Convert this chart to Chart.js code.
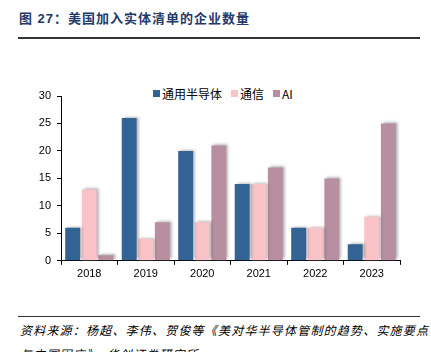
<!DOCTYPE html>
<html>
<head>
<meta charset="utf-8">
<script src="https://cdn.jsdelivr.net/npm/chart.js@4/dist/chart.umd.min.js"></script>
<style>
    body { margin: 0; width: 431px; height: 352px; background: #fff; overflow: hidden; position: relative; font-family: "Liberation Sans", Arial, "Noto Sans CJK SC", sans-serif; }
    #title { position: absolute; left: 19px; top: 8px; font-size: 13px; font-weight: bold; color: #1f3a6b; font-family: "Liberation Sans", "Noto Sans CJK SC", sans-serif; letter-spacing: 1px; }
    .rule { position: absolute; left: 18px; width: 402px; background: #333; }
    #legend { position: absolute; top: 85px; left: 153px; font-size: 12px; color: #000; display: flex; font-family: "Noto Sans CJK SC", sans-serif; }
    #legend span.item { display: flex; align-items: center; margin-right: 9px; }
    #legend span.box { width: 7px; height: 7px; display: inline-block; margin-right: 2px; }
    #chartWrap { position: absolute; left: 0; top: 80px; width: 431px; height: 210px; }
    .note { position: absolute; left: 20px; font-size: 12px; font-style: italic; color: #000; font-family: "Noto Sans CJK SC", sans-serif; letter-spacing: 1.2px; }
</style>
</head>
<body>
<div id="title">图 27：美国加入实体清单的企业数量</div>
<div class="rule" style="top:37px;height:2px;"></div>
<div id="legend"></div>
<div id="chartWrap"><canvas id="myChart" width="431" height="210"></canvas></div>
<div class="rule" style="top:316px;height:1px;"></div>
<div class="note" style="top:321px;">资料来源：杨超、李伟、贺俊等《美对华半导体管制的趋势、实施要点</div>
<div class="note" style="top:345px;">与中国因应》，华创证券研究所</div>
<script>
var years = ['2018', '2019', '2020', '2021', '2022', '2023'];
var semiData = [6, 26, 20, 14, 6, 3];
var telecomData = [13, 4, 7, 14, 6, 8];
var aiData = [1, 7, 21, 17, 15, 25];
var seriesNames = ['通用半导体', '通信', 'AI'];
var yTicks = [0, 5, 10, 15, 20, 25, 30];

var colors = ['#336294', '#f9c3c8', '#b88fa0'];

// html legend
var legendHtml = '';
for (var i = 0; i < seriesNames.length; i++) {
    legendHtml += '<span class="item"><span class="box" style="background:' + colors[i] + '"></span>' + seriesNames[i] + '</span>';
}
document.getElementById('legend').innerHTML = legendHtml;

// soft shadow behind bars
var barShadow = {
    id: 'barShadow',
    beforeDatasetsDraw: function (chart) {
        var ctx = chart.ctx;
        ctx.save();
        ctx.shadowColor = 'rgba(0,0,0,0.35)';
        ctx.shadowBlur = 3;
        ctx.shadowOffsetX = 2;
        ctx.shadowOffsetY = -1;
    },
    afterDatasetsDraw: function (chart) {
        chart.ctx.restore();
    }
};

const ctx = document.getElementById('myChart');
const myChart = new Chart(ctx, {
    type: 'bar',
    data: {
        labels: years,
        datasets: [{
            label: seriesNames[0],
            data: semiData,
            backgroundColor: colors[0]
        }, {
            label: seriesNames[1],
            data: telecomData,
            backgroundColor: colors[1]
        }, {
            label: seriesNames[2],
            data: aiData,
            backgroundColor: colors[2]
        }]
    },
    options: {
        responsive: false,
        animation: false,
        devicePixelRatio: 1,
        categoryPercentage: 0.88,
        barPercentage: 0.9,
        layout: {
            padding: { top: 16, right: 31, left: 0, bottom: 6 }
        },
        plugins: {
            legend: { display: false },
            tooltip: { enabled: false }
        },
        scales: {
            x: {
                grid: {
                    display: true,
                    drawOnChartArea: false,
                    tickLength: 4,
                    color: '#000',
                    offset: true
                },
                border: { color: '#000', width: 1 },
                ticks: {
                    color: '#000',
                    padding: 3,
                    font: { family: 'Liberation Sans', size: 11 }
                }
            },
            y: {
                min: 0,
                max: 30,
                afterBuildTicks: function (axis) {
                    axis.ticks = yTicks.map(function (v) { return { value: v }; });
                },
                afterFit: function (axis) {
                    axis.width = 61;
                },
                grid: {
                    display: true,
                    drawOnChartArea: false,
                    tickLength: 4,
                    color: '#000'
                },
                border: { color: '#000', width: 1 },
                ticks: {
                    color: '#000',
                    padding: 6,
                    font: { family: 'Liberation Sans', size: 11 }
                }
            }
        }
    },
    plugins: [barShadow]
});
</script>
</body>
</html>
